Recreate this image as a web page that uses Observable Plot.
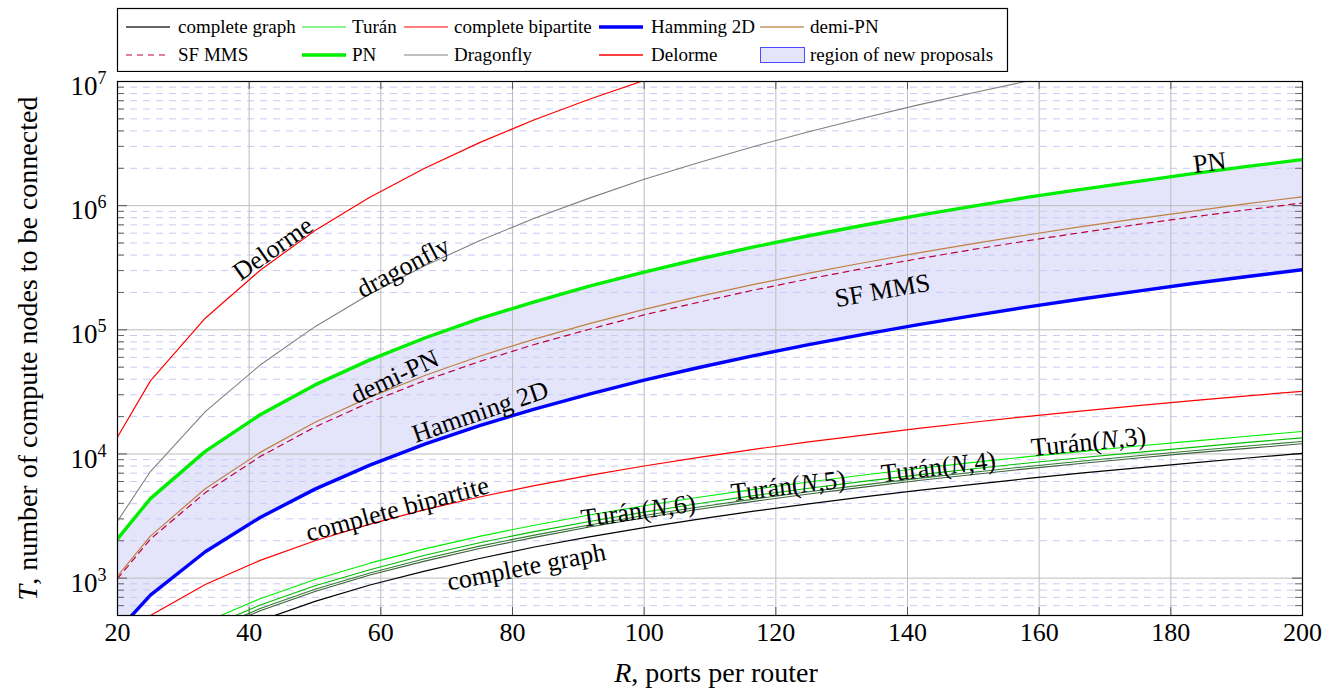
<!DOCTYPE html>
<html><head><meta charset="utf-8">
<script src="https://cdn.jsdelivr.net/npm/d3@7"></script>
<script src="https://cdn.jsdelivr.net/npm/@observablehq/plot@0.6"></script>
<style>
body{margin:0;background:#fff;}
#wrap{position:relative;width:1335px;height:688px;overflow:hidden;}
#legend{position:absolute;left:0;top:0;}
#chart{position:absolute;left:0;top:72px;}
#chart svg{overflow:visible;}
</style></head><body>
<div id="wrap"><svg id="legend" width="1335" height="74"></svg><div id="chart"></div></div>
<script>
// ---- data ----
const R = [20, 25, 33.33, 41.67, 50, 58.33, 66.67, 75, 83.33, 91.67, 100, 108.33, 116.67, 125, 133.33, 141.67, 150, 158.33, 166.67, 175, 183.33, 191.67, 200];
const completeGraph = [120, 169, 295, 455, 650, 880, 1140, 1440, 1780, 2150, 2550, 2990, 3460, 3970, 4510, 5090, 5700, 6350, 7030, 7740, 8490, 9280, 10100];
const turan3 = [180, 254, 442, 683, 975, 1320, 1720, 2170, 2670, 3220, 3830, 4480, 5190, 5950, 6770, 7630, 8550, 9520, 10500, 11600, 12700, 13900, 15200];
const turan4 = [160, 225, 393, 607, 867, 1170, 1530, 1930, 2370, 2860, 3400, 3990, 4620, 5290, 6020, 6790, 7600, 8460, 9370, 10300, 11300, 12400, 13500];
const turan5 = [150, 211, 368, 569, 813, 1100, 1430, 1810, 2220, 2680, 3190, 3740, 4330, 4960, 5640, 6360, 7130, 7930, 8790, 9680, 10600, 11600, 12600];
const turan6 = [144, 203, 354, 546, 780, 1060, 1370, 1730, 2130, 2580, 3060, 3590, 4150, 4760, 5410, 6110, 6840, 7620, 8430, 9290, 10200, 11100, 12100];
const completeBipartite = [307, 500, 889, 1390, 2000, 2720, 3560, 4500, 5560, 6720, 8000, 9390, 10900, 12500, 14200, 16100, 18000, 20100, 22200, 24500, 26900, 29400, 32000];
const hamming2D = [375, 729, 1630, 3080, 5210, 8130, 12000, 16900, 23000, 30400, 39300, 49700, 61900, 75900, 91800, 110000, 130000, 153000, 178000, 205000, 236000, 269000, 305000];
const demiPN = [1040, 2180, 5250, 10300, 18000, 28700, 42900, 61300, 84200, 112000, 146000, 186000, 232000, 286000, 347000, 417000, 495000, 583000, 680000, 787000, 905000, 1040000, 1180000];
const sfMMS = [992, 2060, 4880, 9530, 16500, 26100, 39000, 55600, 76200, 101000, 132000, 167000, 209000, 257000, 312000, 374000, 444000, 523000, 610000, 706000, 811000, 927000, 1050000];
const pn = [2070, 4370, 10500, 20700, 36000, 57300, 85900, 123000, 168000, 225000, 292000, 372000, 465000, 572000, 695000, 834000, 990000, 1170000, 1360000, 1570000, 1810000, 2070000, 2350000];
const dragonfly = [2880, 7220, 21900, 52000, 106000, 194000, 328000, 522000, 791000, 1150000, 1630000, 2230000, 3000000, 3940000, 5090000, 6480000, 8130000, 10100000, 12400000, null, null, null, null];
const delorme = [13700, 38800, 124000, 302000, 630000, 1170000, 2000000, 3220000, 4920000, 7200000, 10200000, 14000000, null, null, null, null, null, null, null, null, null, null, null];

const xTicks = [20, 40, 60, 80, 100, 120, 140, 160, 180, 200];
const yDecades = [1e3, 1e4, 1e5, 1e6, 1e7];
const yMinor = [500, 600, 700, 800, 900,
  2e3, 3e3, 4e3, 5e3, 6e3, 7e3, 8e3, 9e3,
  2e4, 3e4, 4e4, 5e4, 6e4, 7e4, 8e4, 9e4,
  2e5, 3e5, 4e5, 5e5, 6e5, 7e5, 8e5, 9e5,
  2e6, 3e6, 4e6, 5e6, 6e6, 7e6, 8e6, 9e6];

const labelText = ["Delorme", "dragonfly", "PN", "SF MMS", "demi-PN", "Hamming 2D", "complete bipartite", "complete graph", "Turán(*N*,6)", "Turán(*N*,5)", "Turán(*N*,4)", "Turán(*N*,3)"];
const labelR = [43.6, 63.4, 185.9, 136.2, 62.1, 75.1, 62.5, 82.1, 99.1, 121.9, 144.7, 167.5];
const labelT = [450000, 318000, 2220000, 206700, 41800, 21800, 3600, 1228, 3470, 5520, 7850, 12500];
const labelAngle = [-35, -28, -7, -10, -25, -19, -15, -11, -8, -7, -7, -6];

const FONT = '"Liberation Serif", "Times New Roman", Tinos, serif';

// ---- tables built from the arrays ----
const rows = R.map((r, i) => ({
  R: r, complete: completeGraph[i], t3: turan3[i], t4: turan4[i], t5: turan5[i], t6: turan6[i],
  bip: completeBipartite[i], ham: hamming2D[i], demi: demiPN[i], sf: sfMMS[i], pn: pn[i],
  df: dragonfly[i], del: delorme[i]
}));
const labels = labelText.map((t, i) => ({text: t, R: labelR[i], T: labelT[i], a: labelAngle[i]}));

const plotW = 1185, plotH = 534;

const line = (key, stroke, w, extra = {}) => Plot.line(rows, {x: "R", y: key, stroke, strokeWidth: w, clip: true, ...extra});

const chart = Plot.plot({
  width: 1335, height: 616,
  marginLeft: 117, marginRight: 33, marginTop: 9, marginBottom: 73,
  style: {fontFamily: FONT, fontSize: "25px", background: "white", color: "black", overflow: "visible"},
  x: {domain: [20, 200]},
  y: {type: "log", domain: [500, 1e7]},
  marks: [
    Plot.areaY(rows, {x: "R", y1: "ham", y2: "pn", fill: "#e4e4fa", clip: true}),
    Plot.ruleY(yMinor, {stroke: "#c9c9f7", strokeWidth: 1, strokeDasharray: "7,6"}),
    Plot.ruleY(yDecades, {stroke: "#bdbdbd", strokeWidth: 1}),
    Plot.ruleX(xTicks, {stroke: "#bdbdbd", strokeWidth: 1}),
    // inward tick marks
    Plot.ruleY(yMinor, {stroke: "#666", insetRight: plotW - 7}),
    Plot.ruleY(yMinor, {stroke: "#666", insetLeft: plotW - 7}),
    Plot.ruleY(yDecades, {stroke: "#555", insetRight: plotW - 10}),
    Plot.ruleY(yDecades, {stroke: "#555", insetLeft: plotW - 10}),
    Plot.ruleX(xTicks, {stroke: "#555", insetTop: plotH - 8}),
    Plot.ruleX(xTicks, {stroke: "#555", insetBottom: plotH - 8}),
    // curves
    line("complete", "#000000", 1.2),
    line("t6", "#3f5f3f", 1.1),
    line("t5", "#2f7f2f", 1.1),
    line("t4", "#00c000", 1.1),
    line("t3", "#00f000", 1.1),
    line("bip", "#ff0000", 1.2),
    line("ham", "#0000ff", 3.4),
    line("demi", "#bf8040", 1.2),
    line("sf", "#bf0040", 1.2, {strokeDasharray: "6,5"}),
    line("pn", "#00ee00", 3.4),
    line("df", "#808080", 1.1),
    line("del", "#ff0000", 1.2),
    Plot.frame({stroke: "black", strokeWidth: 1.2}),
    // axes
    Plot.axisX(xTicks, {anchor: "bottom", tickSize: 0, tickPadding: 7, label: null, fontSize: 26}),
    Plot.axisY(yDecades, {anchor: "left", tickSize: 0, tickPadding: 11, label: null, fontSize: 27,
      tickFormat: d => "10^" + Math.round(Math.log10(d))}),
    Plot.text(["*R*, ports per router"], {text: d => d, frameAnchor: "bottom", dy: 58, dx: 6, fontSize: 28,
      textAnchor: "middle", lineAnchor: "middle"}),
    Plot.text(["*T*, number of compute nodes to be connected"], {text: d => d, frameAnchor: "left", dx: -89, rotate: -90, fontSize: 28,
      textAnchor: "middle", lineAnchor: "middle"}),
    // curve annotations
    Plot.text(labels, {x: "R", y: "T", text: "text", rotate: "a", fontSize: 26})
  ]
});
document.getElementById("chart").appendChild(chart);

// rich text: *x* -> italic, a^b -> superscript
function richify(root) {
  root.querySelectorAll("text").forEach(t => {
    const s = t.textContent;
    if (!/[\*\^]/.test(s) || t.querySelector("tspan")) return;
    while (t.firstChild) t.removeChild(t.firstChild);
    const NS = "http://www.w3.org/2000/svg";
    if (s.includes("^")) {
      const [base, exp] = s.split("^");
      const a = document.createElementNS(NS, "tspan");
      a.textContent = base; a.setAttribute("dy", "5");
      const b = document.createElementNS(NS, "tspan");
      b.textContent = exp; b.setAttribute("dy", "-11"); b.setAttribute("font-size", "18");
      t.appendChild(a); t.appendChild(b);
      return;
    }
    s.split(/(\*[^*]+\*)/).forEach(part => {
      if (!part) return;
      const sp = document.createElementNS(NS, "tspan");
      if (part.startsWith("*")) { sp.textContent = part.slice(1, -1); sp.setAttribute("font-style", "italic"); }
      else sp.textContent = part;
      t.appendChild(sp);
    });
  });
}
richify(chart);

// ---- legend ----
const legendItems = [
  {label: "complete graph", color: "#333333", w: 1.3, col: 0, row: 0},
  {label: "Turán", color: "#66ee66", w: 1.3, col: 1, row: 0},
  {label: "complete bipartite", color: "#ff5555", w: 1.3, col: 2, row: 0},
  {label: "Hamming 2D", color: "#0000ff", w: 3.4, col: 3, row: 0},
  {label: "demi-PN", color: "#c8955f", w: 1.3, col: 4, row: 0},
  {label: "SF MMS", color: "#bf0040", w: 1.2, dash: "6,5", col: 0, row: 1},
  {label: "PN", color: "#00ee00", w: 3.4, col: 1, row: 1},
  {label: "Dragonfly", color: "#808080", w: 1.2, col: 2, row: 1},
  {label: "Delorme", color: "#ff0000", w: 1.3, col: 3, row: 1},
  {label: "region of new proposals", area: true, col: 4, row: 1}
];
const colLine = [126, 302, 404, 599, 760];
const colText = [178, 352, 454, 651, 810];
const rowY = [27, 55];
const lg = d3.select("#legend");
lg.append("rect").attr("x", 117.5).attr("y", 8.5).attr("width", 890).attr("height", 63)
  .attr("fill", "white").attr("stroke", "black").attr("stroke-width", 1.2);
legendItems.forEach(it => {
  const x0 = colLine[it.col], y = rowY[it.row];
  if (it.area) {
    lg.append("rect").attr("x", x0 + 0.5).attr("y", y - 7.5).attr("width", 44).attr("height", 15)
      .attr("fill", "#e4e4fa").attr("stroke", "#4a4aff").attr("stroke-width", 1);
  } else {
    const l = lg.append("line").attr("x1", x0).attr("x2", x0 + 44).attr("y1", y).attr("y2", y)
      .attr("stroke", it.color).attr("stroke-width", it.w);
    if (it.dash) l.attr("stroke-dasharray", it.dash);
  }
  lg.append("text").attr("x", colText[it.col]).attr("y", y + 6).text(it.label)
    .style("font-family", FONT).attr("font-size", 19).attr("fill", "black");
});
</script>
</body></html>
